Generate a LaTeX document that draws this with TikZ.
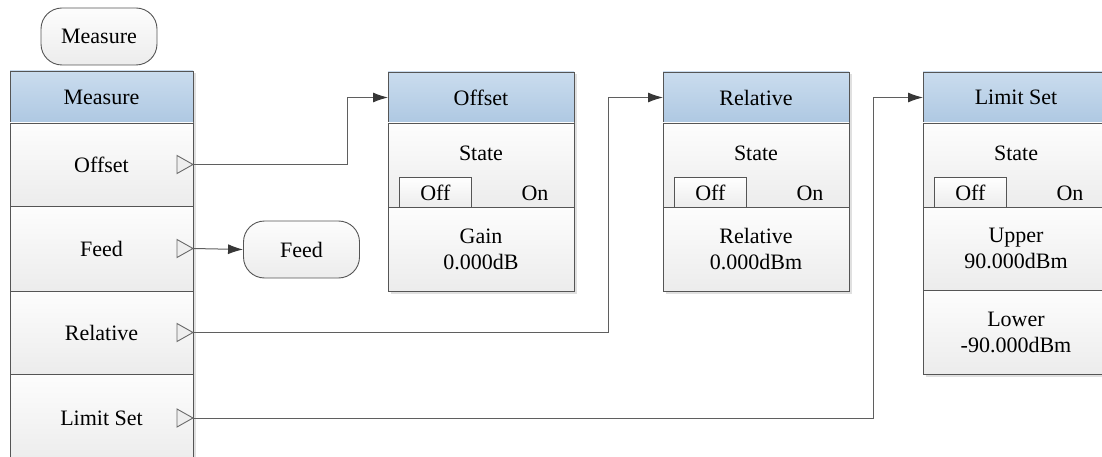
\documentclass[tikz,border=0pt]{standalone}
\usepackage{fontspec}
\setmainfont{Liberation Serif}
\newfontfamily\diagfont{Liberation Serif}
\usetikzlibrary{arrows.meta,shadows}
\definecolor{hdrtop}{RGB}{202,220,238}
\definecolor{hdrbot}{RGB}{174,200,226}
\definecolor{bodytop}{RGB}{253,253,253}
\definecolor{bodybot}{RGB}{236,236,236}
\definecolor{edgec}{RGB}{85,85,85}
\definecolor{wirec}{RGB}{95,95,95}
\definecolor{tipc}{RGB}{55,55,55}
\definecolor{markc}{RGB}{105,105,105}
\definecolor{markf}{RGB}{238,238,238}
\begin{document}
\begin{tikzpicture}[x=1pt,y=-1pt,
  font=\diagfont\fontsize{22}{26}\selectfont,
  base/.style={draw=edgec, line width=0.9pt, inner sep=0pt, outer sep=0pt, align=center,
    drop shadow={shadow xshift=2.5pt, shadow yshift=-2.5pt, fill=black, opacity=0.12}},
  cell/.style={base, anchor=north west, minimum width=#1, top color=bodytop, bottom color=bodybot},
  hdr/.style={base, anchor=north west, minimum width=#1, top color=hdrtop, bottom color=hdrbot},
  pill/.style={draw=edgec, line width=0.9pt, rounded corners=21pt, minimum width=116pt, minimum height=57pt,
    top color=bodytop, bottom color=bodybot, inner sep=0pt},
  offbtn/.style={draw=edgec, line width=0.8pt, anchor=north west, minimum width=72pt, minimum height=30pt,
    top color=white, bottom color=bodybot, inner sep=0pt},
  marker/.style={draw=markc, line width=0.9pt, fill=markf},
  wire/.style={draw=wirec, line width=1pt},
  arr/.style={wire, -{Latex[length=15pt,width=10pt,fill=tipc,color=tipc]}},
  lbl/.style={inner sep=0pt, align=center}
]
\useasboundingbox (0,0) rectangle (1102,457);
\clip (0,0) rectangle (1102,457);

% top pill
\node[pill] (mpill) at (99,36.5) {Measure};

% left column
\node[hdr=183pt, minimum height=52pt] (mhdr) at (10,71) {Measure};
\node[cell=183pt, minimum height=83pt] (moff) at (10,123) {Offset};
\node[cell=183pt, minimum height=85pt] (mfeed) at (10,206) {Feed};
\node[cell=183pt, minimum height=83pt] (mrel) at (10,291) {Relative};
\node[cell=183pt, minimum height=88pt] (mlim) at (10,374) {Limit Set};

\foreach \c in {moff,mfeed,mrel,mlim}{
  \draw[marker] (\c.east) -- ++(-16,-9) -- ++(0,18) -- cycle;
}

% Feed pill
\node[pill] (fpill) at (301.5,249.5) {Feed};

% Offset box
\node[hdr=186pt, minimum height=51pt] (ohdr) at (388,72) {Offset};
\node[cell=186pt, minimum height=84pt] (ostate) at (388,123) {};
\node[cell=186pt, minimum height=84pt] (ogain) at (388,207) {Gain\\0.000dB};
\node[lbl] (ostl) at (481,153) {State};
\node[offbtn] (ooff) at (399,177) {Off};
\node[lbl] (oon) at (535,193) {On};

% Relative box
\node[hdr=186pt, minimum height=51pt] (rhdr) at (663,72) {Relative};
\node[cell=186pt, minimum height=84pt] (rstate) at (663,123) {};
\node[cell=186pt, minimum height=84pt] (rval) at (663,207) {Relative\\0.000dBm};
\node[lbl] (rstl) at (756,153) {State};
\node[offbtn] (roff) at (674,177) {Off};
\node[lbl] (ron) at (810,193) {On};

% Limit Set box
\node[hdr=186pt, minimum height=51pt] (lhdr) at (923,72) {Limit Set};
\node[cell=186pt, minimum height=84pt] (lstate) at (923,123) {};
\node[cell=186pt, minimum height=83pt] (lup) at (923,207) {Upper\\90.000dBm};
\node[cell=186pt, minimum height=84pt] (llow) at (923,290) {Lower\\-90.000dBm};
\node[lbl] (lstl) at (1016,153) {State};
\node[offbtn] (loff) at (934,177) {Off};
\node[lbl] (lon) at (1070,193) {On};

% connectors
\draw[arr] (moff.east) -- ++(154,0) |- (ohdr.west);
\draw[arr] (mfeed.east) -- (fpill.west);
\draw[arr] (mrel.east) -- ++(415,0) |- (rhdr.west);
\draw[arr] (mlim.east) -- ++(680,0) |- (lhdr.west);
\end{tikzpicture}
\end{document}
